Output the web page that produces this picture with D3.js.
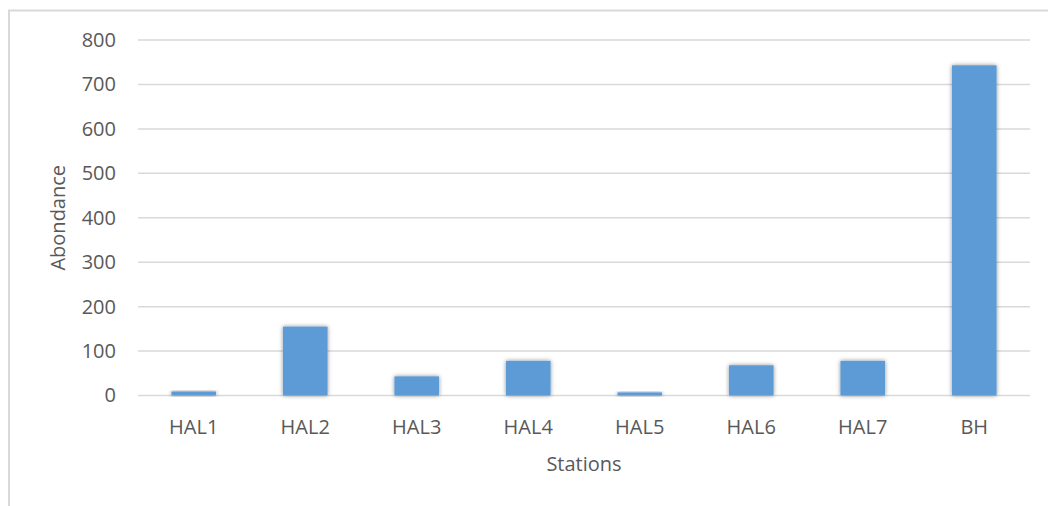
<!DOCTYPE html>
<html>
<head>
<meta charset="utf-8">
<script src="https://cdn.jsdelivr.net/npm/d3@7"></script>
<style>
  html, body { margin: 0; padding: 0; background: #fff; }
  svg { display: block; }
  text { font-family: "Open Sans", "Liberation Sans", sans-serif; fill: #595959; }
</style>
</head>
<body>
<script>
const categories = ["HAL1", "HAL2", "HAL3", "HAL4", "HAL5", "HAL6", "HAL7", "BH"];
const values = [9, 155, 43, 78, 7, 68, 78, 743];
const yTicks = [0, 100, 200, 300, 400, 500, 600, 700, 800];
const xTitle = "Stations";
const yTitle = "Abondance";

const W = 1048, H = 506;
const margin = { left: 138, right: 18, top: 40, bottom: 110 };
const FS = "20px";

const svg = d3.select("body").append("svg").attr("width", W).attr("height", H);

const defs = svg.append("defs");
const f = defs.append("filter").attr("id", "shadow").attr("x", "-30%").attr("y", "-30%").attr("width", "160%").attr("height", "160%");
f.append("feDropShadow").attr("dx", 0).attr("dy", 0).attr("stdDeviation", 2.2).attr("flood-color", "#000").attr("flood-opacity", 0.45);

// chart border
svg.append("rect").attr("x", 9).attr("y", 10.5).attr("width", W + 10).attr("height", H + 10)
  .attr("fill", "none").attr("stroke", "#d9d9d9").attr("stroke-width", 2);

const x = d3.scaleBand().domain(categories).range([margin.left, W - margin.right]).paddingInner(0.6).paddingOuter(0.3);
const y = d3.scaleLinear().domain([0, 800]).range([H - margin.bottom - 0.5, margin.top]);

// gridlines
svg.append("g").selectAll("line").data(yTicks).join("line")
  .attr("x1", margin.left).attr("x2", W - margin.right)
  .attr("y1", d => y(d)).attr("y2", d => y(d))
  .attr("stroke", "#d9d9d9").attr("stroke-width", 1.5);

// y axis labels
const yAxis = d3.axisLeft(y).tickValues(yTicks).tickSize(0).tickPadding(22);
const gy = svg.append("g").attr("transform", `translate(${margin.left},0)`).call(yAxis);
gy.select(".domain").remove();
gy.selectAll("text").style("font-size", FS).style("fill", "#595959").style("font-family", "Open Sans");

// bars
svg.append("g").selectAll("rect").data(values).join("rect")
  .attr("x", (d, i) => x(categories[i]))
  .attr("width", x.bandwidth())
  .attr("y", d => y(d))
  .attr("height", d => y(0) - y(d))
  .attr("fill", "#5b9bd5")
  .attr("filter", "url(#shadow)");

// x axis labels
const xAxis = d3.axisBottom(x).tickSize(0).tickPadding(24);
const gx = svg.append("g").attr("transform", `translate(0,${y(0)})`).call(xAxis);
gx.select(".domain").remove();
gx.selectAll("text").style("font-size", FS).style("fill", "#595959").style("font-family", "Open Sans");

// titles
svg.append("text").attr("x", (margin.left + W - margin.right) / 2).attr("y", 471)
  .attr("text-anchor", "middle").style("font-size", FS).text(xTitle);
svg.append("text").attr("transform", `translate(65,${(y(0) + y(800)) / 2}) rotate(-90)`)
  .attr("text-anchor", "middle").style("font-size", FS).text(yTitle);
</script>
</body>
</html>
